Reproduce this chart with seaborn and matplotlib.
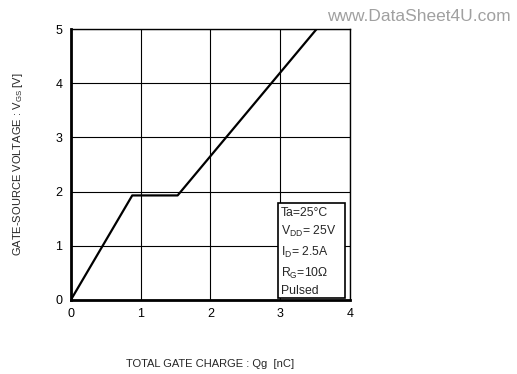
import matplotlib
matplotlib.use("Agg")
import matplotlib.pyplot as plt
import seaborn as sns
import pandas as pd
from matplotlib.patches import Rectangle

charge_nc = [0.0, 0.88, 1.53, 3.52]
vgs_v = [0.0, 1.93, 1.93, 5.0]
x_ticks = [0, 1, 2, 3, 4]
y_ticks = [0, 1, 2, 3, 4, 5]

sns.set_theme(style="white")
plt.rcParams['font.family'] = ['Liberation Sans', 'DejaVu Sans']

fig = plt.figure(figsize=(5.17, 3.74), dpi=100)
ax = fig.add_axes([0.137, 0.198, 0.540, 0.724])

df = pd.DataFrame({"q": charge_nc, "v": vgs_v})
sns.lineplot(data=df, x="q", y="v", ax=ax, color="black", lw=1.6, sort=False)

ax.set_xlim(0, 4)
ax.set_ylim(0, 5)
ax.set_xticks(x_ticks)
ax.set_yticks(y_ticks)
ax.grid(True, color="black", lw=0.8)
for s in ax.spines.values():
    s.set_color("black")
ax.spines['left'].set_linewidth(2)
ax.spines['bottom'].set_linewidth(2)
ax.spines['top'].set_linewidth(1)
ax.spines['right'].set_linewidth(1)
ax.tick_params(axis='both', labelsize=9, colors="black", length=0, pad=6)
ax.set_xlabel("TOTAL GATE CHARGE : Qg  [nC]", fontsize=8, labelpad=28)
ax.set_ylabel("GATE-SOURCE VOLTAGE : V$_{\\mathregular{GS}}$ [V]", fontsize=8, labelpad=22)

# condition box
ax.add_patch(Rectangle((2.97, 0.04), 0.96, 1.75, facecolor="white", edgecolor="black", lw=1.2, zorder=5))
ax.text(3.01, 1.72,
        "Ta=25°C\nV$_{\\mathregular{DD}}$= 25V\nI$_{\\mathregular{D}}$= 2.5A\nR$_{\\mathregular{G}}$=10Ω\nPulsed",
        fontsize=8.8, va="top", ha="left", linespacing=1.5, zorder=6)

fig.text(0.988, 0.955, "www.DataSheet4U.com", ha="right", va="center", fontsize=12.5, color="#a0a0a0")

fig.savefig("out.png", dpi=100)
